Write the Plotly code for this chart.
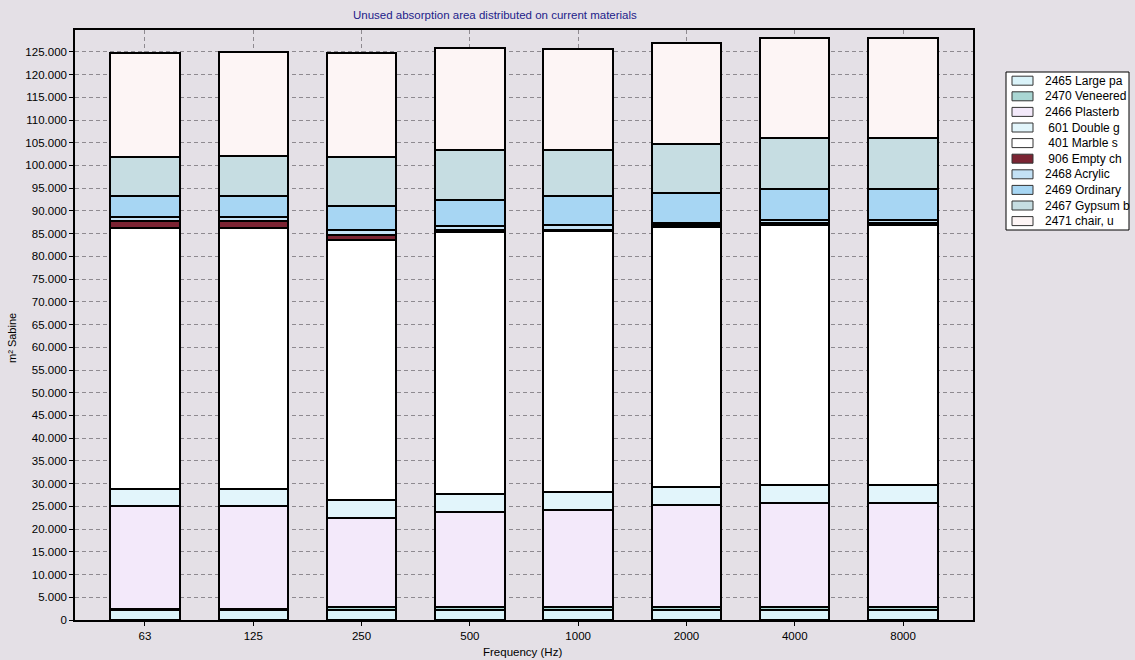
import plotly.graph_objects as go

# Octave-band centre frequencies (Hz)
freqs = ["63", "125", "250", "500", "1000", "2000", "4000", "8000"]

# Unused absorption area per material, m² Sabine (stacked bottom to top)
large_pa = [2300, 2300, 2300, 2300, 2300, 2300, 2300, 2300]
veneered = [100, 100, 500, 500, 500, 500, 500, 500]
plasterb = [22700, 22700, 19600, 20900, 21400, 22400, 23000, 23000]
double_g = [3700, 3700, 3900, 4000, 4000, 4000, 3900, 3900]
marble = [57500, 57500, 57300, 57600, 57300, 57200, 57200, 57200]
empty_ch = [1400, 1400, 1100, 400, 400, 400, 400, 400]
acrylic = [1000, 900, 1000, 900, 900, 600, 700, 700]
ordinary = [4600, 4600, 5300, 5800, 6400, 6600, 6900, 6900]
gypsum = [8600, 8800, 10800, 11000, 10200, 10700, 11100, 11100]
chair = [22900, 22900, 22900, 22400, 22200, 22300, 22100, 22100]

material_names = [
    "2465 Large pa", "2470 Veneered", "2466 Plasterb", "\u00a0601 Double g",
    "\u00a0401 Marble s", "\u00a0906 Empty ch", "2468 Acrylic", "2469 Ordinary",
    "2467 Gypsum b", "2471 chair, u",
]
material_values = [large_pa, veneered, plasterb, double_g, marble,
                   empty_ch, acrylic, ordinary, gypsum, chair]
material_colors = [
    "#daf3f9", "#a9d6d3", "#f3e9fa", "#e2f5fb", "#ffffff",
    "#7b2433", "#c3e1f5", "#a7d6f3", "#c6dde2", "#fdf5f5",
]

y_ticks = list(range(0, 125001, 5000))

BG = "#e4e0e6"
FONT = "Liberation Sans, Arial, sans-serif"

W, H = 1135, 660
ML, MR, MT, MB = 75, 162, 30, 40
PW, PH = W - ML - MR, H - MT - MB


def px_x(px):
    return (px - ML) / PW


def px_y(py):
    return (H - MB - py) / PH


fig = go.Figure()
for name, vals, col in zip(material_names, material_values, material_colors):
    fig.add_trace(go.Bar(
        x=freqs, y=vals, name=name, width=0.64,
        marker=dict(color=col, line=dict(color="black", width=2)),
        showlegend=False,
    ))

# Legend box drawn as a compact list of swatches
shapes = [dict(type="rect", xref="paper", yref="paper",
               x0=px_x(1006), x1=px_x(1129), y0=px_y(230), y1=px_y(72),
               fillcolor="white", line=dict(color="black", width=1), layer="above")]
annotations = []
row_h = 15.6
for i, (name, col) in enumerate(zip(material_names, material_colors)):
    yc = 80.7 + i * row_h
    shapes.append(dict(type="rect", xref="paper", yref="paper",
                       x0=px_x(1012), x1=px_x(1033), y0=px_y(yc + 4.5), y1=px_y(yc - 4.5),
                       fillcolor=col, line=dict(color="#333333", width=1), layer="above"))
    annotations.append(dict(xref="paper", yref="paper", x=px_x(1043), y=px_y(yc),
                            text=name, showarrow=False, xanchor="left", yanchor="middle",
                            font=dict(family=FONT, size=12, color="black")))

annotations.append(dict(xref="paper", yref="paper", x=px_x(495), y=px_y(15),
                        text="Unused absorption area distributed on current materials",
                        showarrow=False, xanchor="center", yanchor="middle",
                        font=dict(family=FONT, size=11.5, color="#22228a")))
annotations.append(dict(xref="paper", yref="paper", x=px_x(12), y=px_y(338),
                        text="m² Sabine", textangle=-90, showarrow=False,
                        xanchor="center", yanchor="middle",
                        font=dict(family=FONT, size=11, color="black")))
annotations.append(dict(xref="paper", yref="paper", x=px_x(522), y=px_y(652),
                        text="Frequency (Hz)", showarrow=False,
                        xanchor="center", yanchor="middle",
                        font=dict(family=FONT, size=11.5, color="black")))

fig.update_layout(
    width=W, height=H,
    margin=dict(l=ML, r=MR, t=MT, b=MB, pad=0),
    barmode="stack", bargap=0.36,
    paper_bgcolor=BG, plot_bgcolor=BG,
    separators=",.",
    font=dict(family=FONT, size=11.5, color="black"),
    shapes=shapes, annotations=annotations,
    xaxis=dict(
        type="category", range=[-0.646, 7.646],
        showline=True, linecolor="black", linewidth=1.5, mirror=True,
        ticks="outside", ticklen=4, tickcolor="black",
        showgrid=True, gridcolor="#8e8a90", griddash="4px,3px", gridwidth=1,
        tickfont=dict(family=FONT, size=11.5, color="black"),
    ),
    yaxis=dict(
        range=[0, 129800], tickvals=y_ticks, tickformat=",d",
        showline=True, linecolor="black", linewidth=1.5, mirror=True,
        ticks="outside", ticklen=4, tickcolor="black",
        showgrid=True, gridcolor="#8e8a90", griddash="4px,3px", gridwidth=1,
        zeroline=False,
        tickfont=dict(family=FONT, size=11.5, color="black"),
    ),
)

fig.write_html("out.html")
